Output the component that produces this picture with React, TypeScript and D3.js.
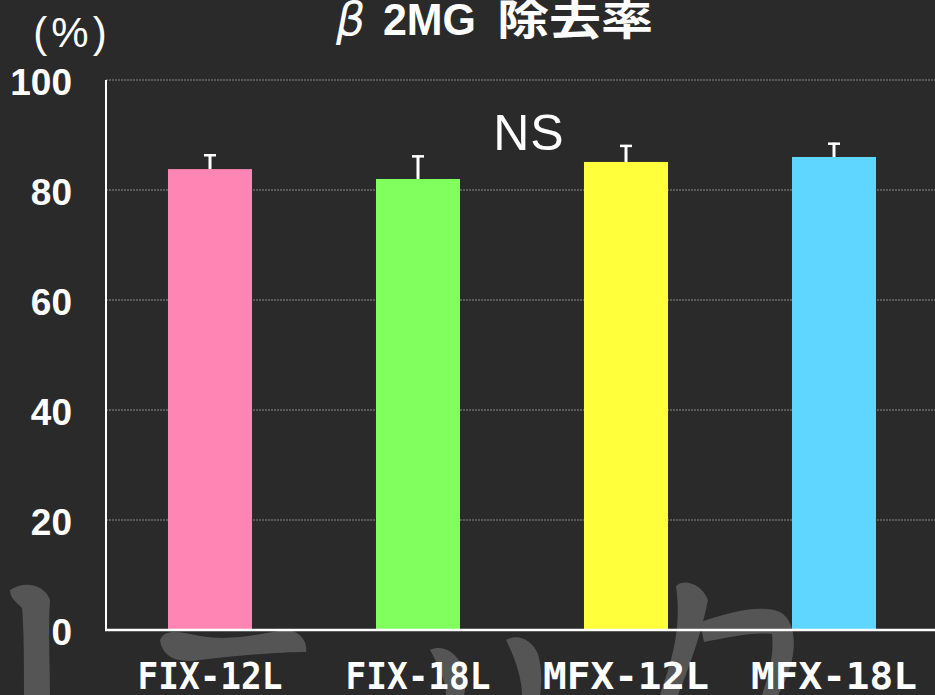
import React from "react";
import * as d3 from "d3";

const categories = ["FIX-12L", "FIX-18L", "MFX-12L", "MFX-18L"];
const means = [83.8, 82.0, 85.1, 86.0];
const sds = [2.7, 4.3, 3.1, 2.6];
const colors = ["#ff85b4", "#80ff5e", "#ffff3c", "#5ed6ff"];
const yTicks = [0, 20, 40, 60, 80, 100];

const W = 935;
const H = 695;

export default function App() {
  const x = d3
    .scaleBand<string>()
    .domain(categories)
    .range([106, 938])
    .paddingInner(0.596)
    .paddingOuter(0.298);
  const y = d3.scaleLinear().domain([0, 100]).range([630, 80]);
  const bw = x.bandwidth();

  return (
    <svg
      width={W}
      height={H}
      style={{ position: "absolute", left: 0, top: 0, background: "#2a2a2a" }}
      fontFamily="'Liberation Sans', Arial, sans-serif"
    >
      <rect x={0} y={0} width={W} height={H} fill="#2a2a2a" />
      {/* faint calligraphy decoration */}
      <g fill="#555555">
        <path d="M10,590 C25,580 45,585 50,600 C48,630 50,665 50,695 L24,695 C24,660 24,630 22,608 C16,602 10,598 10,590 Z" />
        <path d="M160,640 C165,628 180,632 200,636 C235,642 265,632 285,630 C300,630 308,642 306,652 C280,652 240,655 200,660 C175,664 162,655 160,640 Z" />
        <path d="M430,650 C442,644 456,652 462,666 C466,678 466,688 464,695 L446,695 C446,682 440,668 430,650 Z" />
        <path d="M506,640 C518,633 532,640 538,654 C542,668 542,684 540,695 L522,695 C522,680 516,660 506,640 Z" />
        <path d="M676,586 C684,578 702,584 708,600 C702,630 692,660 678,695 L660,695 C672,660 682,628 676,586 Z" />
        <path d="M700,622 C730,612 760,604 780,612 C794,620 796,640 792,660 C788,676 782,688 778,695 L762,695 C770,672 774,652 772,634 C750,632 726,638 704,642 Z" />
      </g>

      {/* gridlines */}
      {yTicks
        .filter((t) => t > 0)
        .map((t) => (
          <line
            key={t}
            x1={106}
            x2={W}
            y1={y(t)}
            y2={y(t)}
            stroke="#8a8a8a"
            strokeWidth={1.2}
            strokeDasharray="2,1"
          />
        ))}

      {/* bars */}
      {categories.map((c, i) => (
        <rect
          key={c}
          x={x(c)}
          y={y(means[i])}
          width={bw}
          height={y(0) - y(means[i])}
          fill={colors[i]}
        />
      ))}

      {/* error bars */}
      {categories.map((c, i) => {
        const cx = (x(c) as number) + bw / 2;
        return (
          <g key={c} stroke="#ffffff">
            <line x1={cx} x2={cx} y1={y(means[i])} y2={y(means[i] + sds[i])} strokeWidth={3} />
            <line
              x1={cx - 6}
              x2={cx + 6}
              y1={y(means[i] + sds[i]) + 1}
              y2={y(means[i] + sds[i]) + 1}
              strokeWidth={2.5}
            />
          </g>
        );
      })}

      {/* axes */}
      <line x1={106} x2={106} y1={y(100)} y2={y(0)} stroke="#ffffff" strokeWidth={2} />
      <line x1={105} x2={W} y1={y(0)} y2={y(0)} stroke="#ffffff" strokeWidth={2.5} />

      {/* y tick labels */}
      {yTicks.map((t) => (
        <text
          key={t}
          x={72}
          y={y(t) + 2}
          textAnchor="end"
          dominantBaseline="central"
          fill="#ffffff"
          fontSize={37}
          fontWeight="bold"
        >
          {t}
        </text>
      ))}

      {/* x labels */}
      {categories.map((c) => {
        const cx = (x(c) as number) + bw / 2;
        const len = c.startsWith("M") ? 166 : 145;
        return (
          <text
            key={c}
            x={cx}
            y={689}
            textAnchor="middle"
            fill="#ffffff"
            fontSize={38}
            fontWeight="bold"
            fontFamily="'DejaVu Sans Mono', monospace"
            textLength={len}
            lengthAdjust="spacingAndGlyphs"
          >
            {c}
          </text>
        );
      })}

      {/* NS */}
      <text x={529} y={150} textAnchor="middle" fill="#ffffff" fontSize={50} letterSpacing={1}>
        NS
      </text>

      {/* unit */}
      <text
        x={72}
        y={47}
        textAnchor="middle"
        fill="#ffffff"
        fontSize={42}
        letterSpacing={4}
      >
        (%)
      </text>

      {/* title */}
      <text x={336} y={35} fill="#ffffff" fontSize={46} fontStyle="italic" fontFamily="'DejaVu Sans', sans-serif">
        β
      </text>
      <text
        x={383}
        y={35}
        fill="#ffffff"
        fontSize={44}
        fontWeight="bold"
        textLength={93}
        lengthAdjust="spacingAndGlyphs"
      >
        2MG
      </text>
      <text
        x={497}
        y={35}
        fill="#ffffff"
        fontSize={42}
        fontWeight="bold"
        fontFamily="'Noto Sans CJK JP', sans-serif"
        textLength={156}
        lengthAdjust="spacingAndGlyphs"
      >
        除去率
      </text>
    </svg>
  );
}
